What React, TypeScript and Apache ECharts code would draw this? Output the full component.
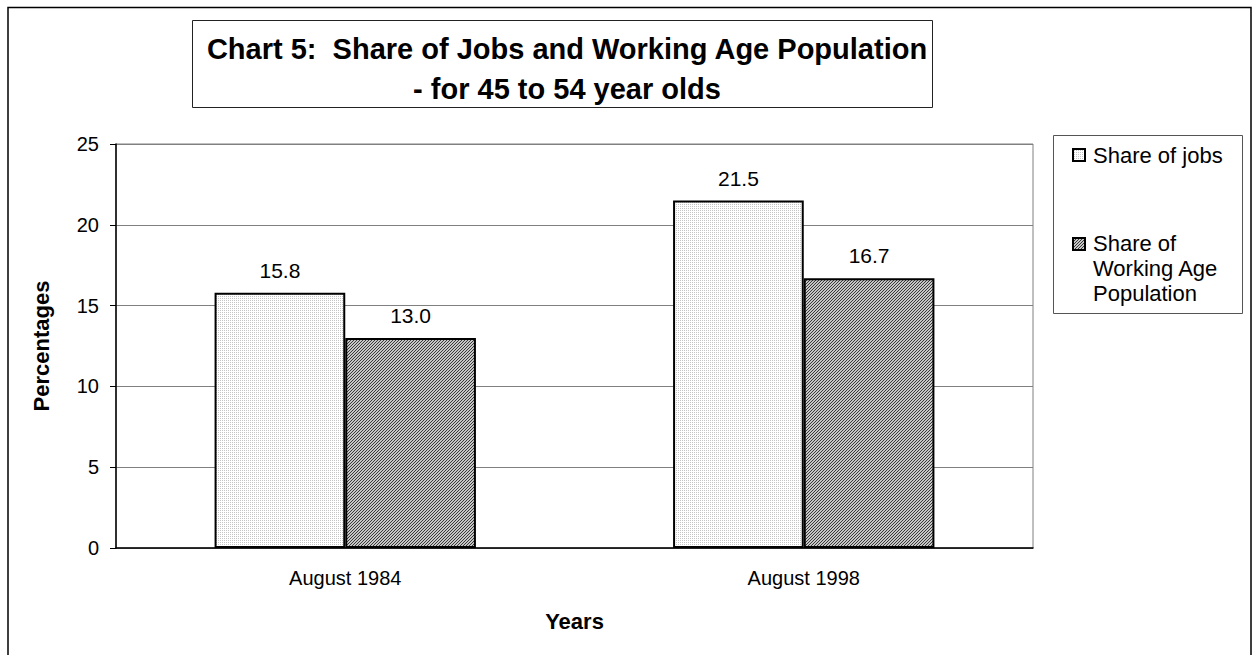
import React, { useEffect, useRef } from "react";
import * as echarts from "echarts";

const categories = ["August 1984", "August 1998"];
const seriesNames = ["Share of jobs", "Share of Working Age Population"];
const legendLabels = ["Share of jobs", "Share of\nWorking Age\nPopulation"];
const jobsValues = [15.8, 21.5];
const populationValues = [13.0, 16.7];
const titleLines = ["Chart 5:  Share of Jobs and Working Age Population", "- for 45 to 54 year olds"];
const yMin = 0;
const yMax = 25;
const yInterval = 5;

function makePattern(kind: "dots" | "hatch"): HTMLCanvasElement {
  const c = document.createElement("canvas");
  const n = kind === "dots" ? 4 : 3;
  c.width = n;
  c.height = n;
  const ctx = c.getContext("2d")!;
  if (kind === "dots") {
    ctx.fillStyle = "#ffffff";
    ctx.fillRect(0, 0, n, n);
    ctx.fillStyle = "#c4c4c4";
    for (let x = 0; x < n; x += 2) for (let y = 0; y < n; y += 2) ctx.fillRect(x, y, 1, 1);
  } else {
    for (let x = 0; x < n; x++) {
      for (let y = 0; y < n; y++) {
        ctx.fillStyle = (x + y) % 3 === 0 ? "#3a3a3a" : "#c6c6c6";
        ctx.fillRect(x, y, 1, 1);
      }
    }
  }
  return c;
}

export default function App() {
  const ref = useRef<HTMLDivElement>(null);
  useEffect(() => {
    if (!ref.current) return;
    const chart = echarts.init(ref.current, undefined, { renderer: "svg" });
    const dots = { image: makePattern("dots"), repeat: "repeat" } as any;
    const hatch = { image: makePattern("hatch"), repeat: "repeat" } as any;
    const font = "'Liberation Sans', Arial, sans-serif";
    const labelCfg = {
      show: true,
      position: "top",
      distance: 12,
      fontSize: 21,
      color: "#000",
      fontFamily: font,
      formatter: (p: any) => Number(p.value).toFixed(1),
    };
    chart.setOption({
      animation: false,
      backgroundColor: "#ffffff",
      textStyle: { fontFamily: font },
      title: {
        text: titleLines.join("\n"),
        left: 562,
        top: 24,
        textAlign: "center",
        textStyle: { fontSize: 29, fontWeight: "bold", color: "#000", lineHeight: 40, fontFamily: font },
      },
      grid: {
        left: 116,
        top: 144,
        right: 219,
        bottom: 107,
        show: true,
        borderColor: "#808080",
        borderWidth: 1,
        backgroundColor: "transparent",
      },
      xAxis: {
        type: "category",
        data: categories,
        axisLine: { lineStyle: { color: "#000", width: 1.5 } },
        axisTick: { show: false },
        axisLabel: { fontSize: 20, color: "#000", margin: 20, fontFamily: font },
        name: "Years",
        nameLocation: "middle",
        nameGap: 62,
        nameTextStyle: { fontSize: 22, fontWeight: "bold", color: "#000", fontFamily: font },
      },
      yAxis: {
        type: "value",
        min: yMin,
        max: yMax,
        interval: yInterval,
        axisLine: { show: true, lineStyle: { color: "#000", width: 1.5 } },
        axisTick: { show: true, length: 6, lineStyle: { color: "#000" } },
        axisLabel: { fontSize: 20, color: "#000", margin: 17, fontFamily: font },
        splitLine: { show: true, lineStyle: { color: "#808080", width: 1 } },
        name: "Percentages",
        nameLocation: "middle",
        nameRotate: 90,
        nameGap: 64,
        nameTextStyle: { fontSize: 22, fontWeight: "bold", color: "#000", fontFamily: font },
      },
      series: [
        {
          name: seriesNames[0],
          type: "bar",
          data: jobsValues,
          barGap: "0%",
          barCategoryGap: "43%",
          itemStyle: { color: dots, borderColor: "#000", borderWidth: 2 },
          label: labelCfg,
        },
        {
          name: seriesNames[1],
          type: "bar",
          data: populationValues,
          barGap: "0%",
          barCategoryGap: "43%",
          itemStyle: { color: hatch, borderColor: "#000", borderWidth: 2 },
          label: labelCfg,
        },
      ],
      graphic: [
        {
          type: "rect",
          shape: { x: 8, y: 7.5, width: 1243, height: 700 },
          style: { fill: "none", stroke: "#000", lineWidth: 1.5 },
          silent: true,
        },
        {
          type: "rect",
          shape: { x: 192.5, y: 20.5, width: 740, height: 87 },
          style: { fill: "none", stroke: "#222", lineWidth: 1 },
          silent: true,
        },
        {
          type: "rect",
          shape: { x: 1053.5, y: 135.5, width: 189, height: 178 },
          style: { fill: "none", stroke: "#555", lineWidth: 1 },
          silent: true,
        },
        {
          type: "rect",
          shape: { x: 1073, y: 149, width: 12, height: 12 },
          style: { fill: dots, stroke: "#000", lineWidth: 2 },
          silent: true,
        },
        {
          type: "text",
          x: 1093,
          y: 155,
          style: { text: legendLabels[0], fontSize: 22, fill: "#000", font: `22px ${font}`, verticalAlign: "middle" },
          silent: true,
        },
        {
          type: "rect",
          shape: { x: 1073, y: 238, width: 12, height: 12 },
          style: { fill: hatch, stroke: "#000", lineWidth: 2 },
          silent: true,
        },
        {
          type: "text",
          x: 1093,
          y: 231,
          style: {
            text: legendLabels[1],
            fontSize: 22,
            fill: "#000",
            font: `22px ${font}`,
            lineHeight: 25,
            verticalAlign: "top",
          },
          silent: true,
        },
      ],
    });
    return () => chart.dispose();
  }, []);
  return (
    <div
      ref={ref}
      style={{ position: "fixed", left: 0, top: 0, width: 1252, height: 655, background: "#fff" }}
    />
  );
}
